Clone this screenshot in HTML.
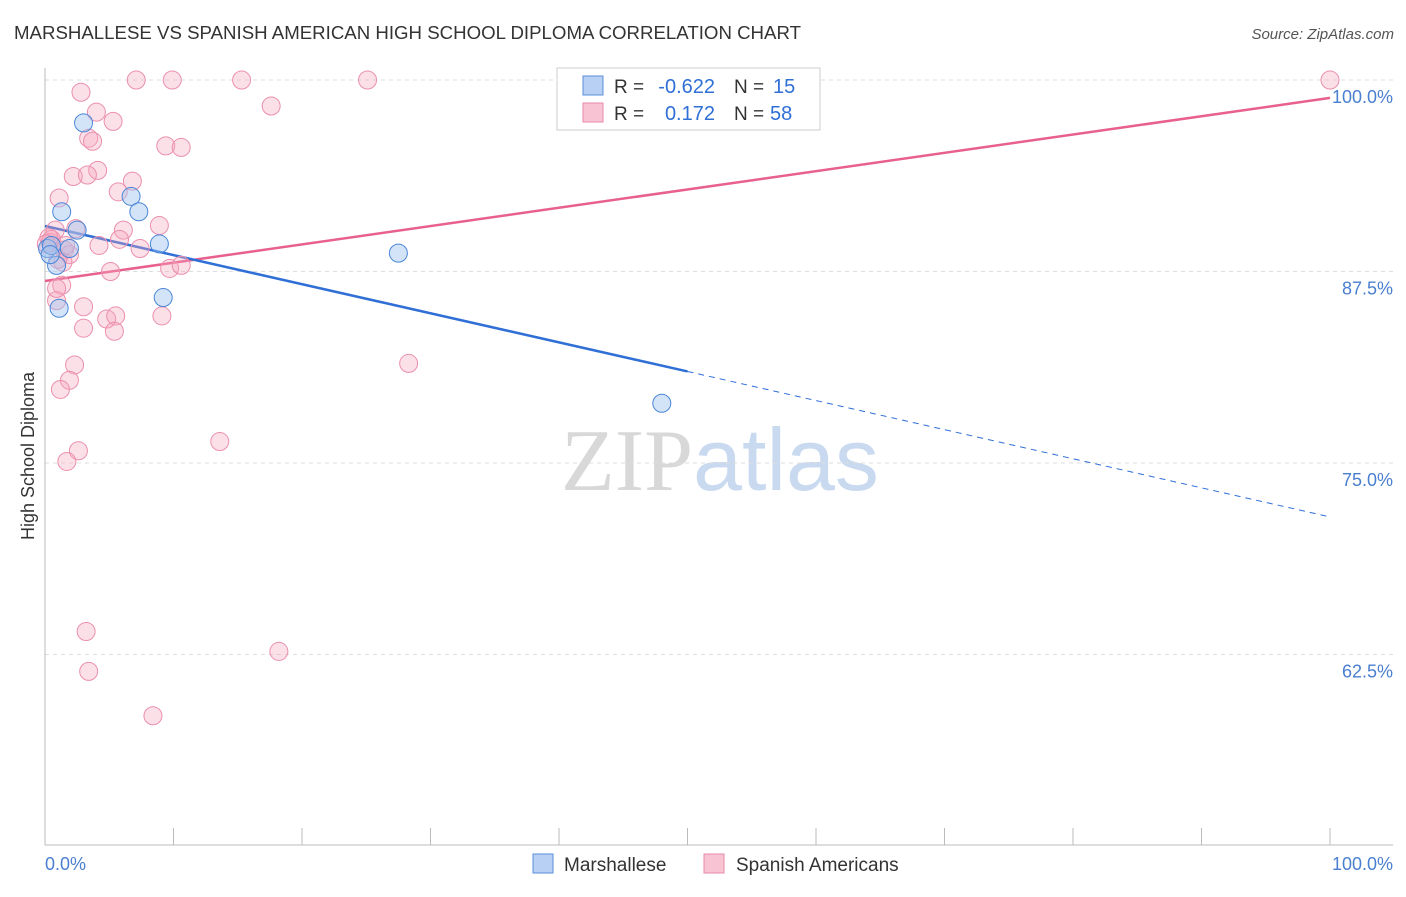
<!DOCTYPE html>
<html><head><meta charset="utf-8"><style>
body{margin:0;background:#fff;font-family:"Liberation Sans",sans-serif;}
svg text{font-family:"Liberation Sans",sans-serif;}
</style></head><body>
<svg id="chart" width="1406" height="892" xmlns="http://www.w3.org/2000/svg">
<text x="14" y="39" font-size="18" fill="#333" textLength="787" lengthAdjust="spacingAndGlyphs">MARSHALLESE VS SPANISH AMERICAN HIGH SCHOOL DIPLOMA CORRELATION CHART</text>
<text x="1394" y="39" font-size="15" fill="#555" text-anchor="end" font-style="italic">Source: ZipAtlas.com</text>
<text x="720" y="490" font-size="88" text-anchor="middle"><tspan fill="#d8d8d8" font-family="Liberation Serif">ZIP</tspan><tspan fill="#c9daf0">atlas</tspan></text>
<g id="grid"></g>
<line x1="45" y1="68" x2="45" y2="845" stroke="#bbb"/>
<line x1="45" y1="845" x2="1393" y2="845" stroke="#bbb"/>
<g id="xticks"></g>
<text transform="translate(34,456) rotate(-90)" font-size="18" fill="#333" text-anchor="middle">High School Diploma</text>
<text x="45" y="870" font-size="18" fill="#4a7fd0">0.0%</text>
<text x="1393" y="870" font-size="18" fill="#4a7fd0" text-anchor="end">100.0%</text>
<g id="lines"></g>
<g id="points"></g>
<g>
<rect x="557" y="68" width="263" height="62" fill="#fff" stroke="#ccc"/>
<rect x="583" y="76" width="20" height="19" fill="#b7d0f3" stroke="#5b8fd8"/>
<rect x="583" y="103" width="20" height="19" fill="#f8c4d3" stroke="#e88aa9"/>
<text x="614" y="93" font-size="19" fill="#333">R =</text>
<text x="715" y="93" font-size="20" fill="#2f6fd6" text-anchor="end">-0.622</text>
<text x="734" y="93" font-size="19" fill="#333">N =</text>
<text x="773" y="93" font-size="20" fill="#2f6fd6">15</text>
<text x="614" y="120" font-size="19" fill="#333">R =</text>
<text x="715" y="120" font-size="20" fill="#2f6fd6" text-anchor="end">0.172</text>
<text x="734" y="120" font-size="19" fill="#333">N =</text>
<text x="770" y="120" font-size="20" fill="#2f6fd6">58</text>
</g>
<g>
<rect x="533" y="854" width="20" height="19" fill="#b7d0f3" stroke="#5b8fd8"/>
<text x="564" y="871" font-size="19" fill="#333">Marshallese</text>
<rect x="704" y="854" width="20" height="19" fill="#f8c4d3" stroke="#e88aa9"/>
<text x="736" y="871" font-size="19" fill="#333">Spanish Americans</text>
</g>
</svg>
<script>
const yTicks=[100,87.5,75,62.5];
const yTickLabels=["100.0%","87.5%","75.0%","62.5%"];
const xTicks=[0,10,20,30,40,50,60,70,80,90,100];
const blueX=[3.0,1.3,6.7,7.3,2.5,0.2,1.9,8.9,0.9,1.1,9.2,27.5,48.0,0.5,0.4];
const blueY=[97.2,91.4,92.4,91.4,90.2,89.0,89.0,89.3,87.9,85.1,85.8,88.7,78.9,89.2,88.6];
const pinkX=[7.1,9.9,15.3,25.1,100,2.8,4.0,17.6,5.3,3.4,3.7,9.4,10.6,4.1,2.2,3.3,5.7,6.8,1.1,8.9,6.1,2.4,5.8,4.2,7.4,0.8,1.5,1.9,0.4,1.4,9.7,10.6,5.1,1.3,0.9,3.0,3.0,4.8,5.5,5.4,9.1,2.3,28.3,1.9,1.2,13.6,2.6,1.7,3.2,18.2,3.4,8.4,0.5,1.0,0.9,0.3,0.1,1.6];
const pinkY=[100,100,100,100,100,99.2,97.9,98.3,97.3,96.2,96.0,95.7,95.6,94.1,93.7,93.8,92.7,93.4,92.3,90.5,90.2,90.3,89.6,89.2,89.0,90.2,88.9,88.6,89.4,88.1,87.7,87.9,87.5,86.6,85.6,85.2,83.8,84.4,84.6,83.6,84.6,81.4,81.5,80.4,79.8,76.4,75.8,75.1,64.0,62.7,61.4,58.5,89.6,88.3,86.4,89.7,89.3,89.2];
const blueTrend=[90.47,71.48];
const pinkTrend=[86.88,98.83];
const blueSolidEnd=50;
const NS="http://www.w3.org/2000/svg";
const sx=v=>45+v*12.85;
const sy=v=>80+(100-v)*15.32;
function mk(tag,attrs,parent){const e=document.createElementNS(NS,tag);for(const k in attrs)e.setAttribute(k,attrs[k]);parent.appendChild(e);return e;}
const grid=document.getElementById('grid');
yTicks.forEach((t,i)=>{
 const l=mk('line',{x1:45,x2:1393,y1:sy(t),y2:sy(t),stroke:'#ddd','stroke-dasharray':'4,4'},grid);
 
 
 const tx=mk('text',{x:1393,y:sy(t)+23,'font-size':18,fill:'#4a7fd0','text-anchor':'end'},grid);
 tx.textContent=yTickLabels[i];
 
 
});
const xt=document.getElementById('xticks');
xTicks.forEach(t=>{
 const l=mk('line',{x1:sx(t),x2:sx(t),y1:828,y2:845,stroke:'#bbb'},xt);
 
 
});
const lines=document.getElementById('lines');
const lerp=(a,x)=>a[0]+(a[1]-a[0])*x/100;
let l1=mk('line',{x1:sx(0),y1:sy(pinkTrend[0]),x2:sx(100),y2:sy(pinkTrend[1]),stroke:'#e8608c','stroke-width':2.5},lines);


let l2=mk('line',{x1:sx(0),y1:sy(blueTrend[0]),x2:sx(blueSolidEnd),y2:sy(lerp(blueTrend,blueSolidEnd)),stroke:'#2f6fd6','stroke-width':2.5},lines);


let l3=mk('line',{x1:sx(blueSolidEnd),y1:sy(lerp(blueTrend,blueSolidEnd)),x2:sx(100),y2:sy(blueTrend[1]),stroke:'#2f6fd6','stroke-width':1,'stroke-dasharray':'6,5'},lines);


const pts=document.getElementById('points');
pinkX.forEach((x,i)=>{
 const c=mk('circle',{cx:sx(x),cy:sy(pinkY[i]),r:9,fill:'rgba(245,165,190,0.35)',stroke:'#eb8fae','stroke-width':1},pts);
 
 
});
blueX.forEach((x,i)=>{
 const c=mk('circle',{cx:sx(x),cy:sy(blueY[i]),r:9,fill:'rgba(160,195,240,0.45)',stroke:'#4a86d8','stroke-width':1},pts);
 
 
});
</script>
</body></html>
